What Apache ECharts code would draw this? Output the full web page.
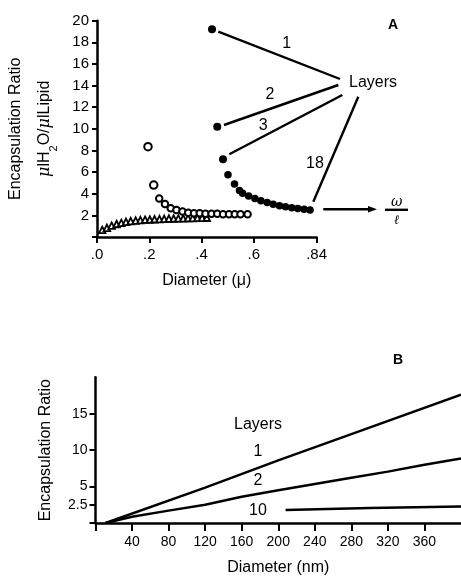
<!DOCTYPE html>
<html>
<head>
<meta charset="utf-8">
<script src="https://cdn.jsdelivr.net/npm/echarts@6/dist/echarts.min.js"></script>
<style>
  html, body { margin: 0; padding: 0; background: #fff; }
  #main { width: 461px; height: 577px; }
</style>
</head>
<body>
<div id="main"></div>
<script>
// panel A: multilamellar (filled), small vesicles (open circles, triangles)
var layerX = [0.44, 0.46, 0.482, 0.501, 0.526, 0.545, 0.557, 0.58, 0.604, 0.627, 0.651, 0.674, 0.698, 0.721, 0.745, 0.768, 0.792, 0.815];
var layerY = [19.2, 10.2, 7.2, 5.75, 4.9, 4.3, 4.04, 3.8, 3.55, 3.35, 3.18, 3.02, 2.9, 2.8, 2.71, 2.63, 2.56, 2.5];
var openX = [0.195, 0.217, 0.238, 0.26, 0.282, 0.304, 0.327, 0.349, 0.371, 0.393, 0.415, 0.438, 0.46, 0.482, 0.505, 0.527, 0.549, 0.576];
var openY = [8.35, 4.8, 3.55, 3.05, 2.65, 2.5, 2.35, 2.25, 2.2, 2.2, 2.15, 2.15, 2.15, 2.1, 2.1, 2.1, 2.1, 2.1];
var triX = [0.02, 0.038, 0.056, 0.075, 0.093, 0.111, 0.129, 0.148, 0.166, 0.184, 0.202, 0.22, 0.239, 0.257, 0.275, 0.293, 0.311, 0.33, 0.348, 0.366, 0.384, 0.402, 0.42];
var triY = [0.65, 0.85, 1.05, 1.2, 1.3, 1.4, 1.47, 1.52, 1.56, 1.6, 1.62, 1.64, 1.66, 1.68, 1.7, 1.71, 1.72, 1.73, 1.74, 1.75, 1.76, 1.77, 1.78];
var ticksAX = [0, 0.2, 0.4, 0.6, 0.84];
var labelsAX = ['.0', '.2', '.4', '.6', '.84'];

// panel B: ratio vs diameter (nm) for 1, 2, 10 layers
var diamB1 = [11, 120, 200, 280, 400];
var ratioB1 = [0, 4.85, 8.6, 12.2, 17.6];
var diamB2 = [11, 40, 80, 120, 160, 200, 240, 280, 320, 360, 400];
var ratioB2 = [0, 0.85, 1.7, 2.5, 3.6, 4.5, 5.35, 6.2, 7.05, 8.0, 8.85];
var diamB10 = [208, 300, 400];
var ratioB10 = [1.8, 2.05, 2.25];
var ticksBX = [0, 40, 80, 120, 160, 200, 240, 280, 320, 360];
var ticksBY = [0, 2.5, 5, 10, 15];

function pairs(xs, ys) {
  return xs.map(function (x, i) { return [x, ys[i]]; });
}

var ink = '#000';
var font = 'Liberation Sans, Arial, Helvetica, sans-serif';

var myChart = echarts.init(document.getElementById('main'));

function axisCommon() {
  return {
    axisLine: { show: true, onZero: false, lineStyle: { color: ink, width: 2.5 } },
    axisTick: { show: true, inside: false, length: 6, lineStyle: { color: ink, width: 2 } },
    splitLine: { show: false },
    axisLabel: { color: ink, fontFamily: font },
    nameTextStyle: { color: ink, fontFamily: font, fontSize: 16 }
  };
}

function txt(x, y, s, opt) {
  opt = opt || {};
  return {
    type: 'text', x: x, y: y,
    style: {
      text: s, fill: ink, align: 'center', verticalAlign: 'middle',
      font: (opt.weight || 'normal') + ' ' + (opt.size || 16) + 'px ' + font
    }
  };
}

function seg(x1, y1, x2, y2) {
  return { type: 'line', shape: { x1: x1, y1: y1, x2: x2, y2: y2 }, style: { stroke: ink, lineWidth: 2.4 } };
}

var option = {
  backgroundColor: '#fff',
  animation: false,
  textStyle: { fontFamily: font },
  grid: [
    { left: 94, top: 20.7, width: 222.6, height: 216.3 },
    { left: 95.5, top: 377.3, right: 0, bottom: 53 }
  ],
  xAxis: [
    echarts.util.merge(axisCommon(), {
      gridIndex: 0, type: 'value', min: 0, max: 0.84,
      name: 'Diameter (μ)', nameLocation: 'middle', nameGap: 36,
      axisTick: { customValues: ticksAX },
      axisLabel: { customValues: ticksAX, fontSize: 15, margin: 10,
        formatter: function (v) { return labelsAX[ticksAX.indexOf(v)] || ''; } }
    }, true),
    echarts.util.merge(axisCommon(), {
      gridIndex: 1, type: 'value', min: 0, max: 400,
      name: 'Diameter (nm)', nameLocation: 'middle', nameGap: 37,
      axisTick: { customValues: ticksBX, length: 8 },
      axisLabel: { customValues: ticksBX.slice(1), fontSize: 14, margin: 12 }
    }, true)
  ],
  yAxis: [
    echarts.util.merge(axisCommon(), {
      gridIndex: 0, type: 'value', min: 0, max: 20, interval: 2,
      name: 'Encapsulation Ratio\n{mu|μ}lH{sub|2}O/{mu|μ}lLipid',
      nameLocation: 'middle', nameGap: 38, nameRotate: 90,
      nameTextStyle: { lineHeight: 29, rich: {
        mu: { fontStyle: 'italic', fontSize: 16, fontFamily: 'DejaVu Serif, serif', color: ink },
        sub: { fontSize: 11, verticalAlign: 'bottom', padding: [6, 0, 0, 0], color: ink, fontFamily: font }
      } },
      axisTick: { length: 5 },
      axisLabel: { fontSize: 15, margin: 8,
        formatter: function (v) { return v === 0 ? '' : String(v); } }
    }, true),
    echarts.util.merge(axisCommon(), {
      gridIndex: 1, type: 'value', min: 0, max: 20,
      name: 'Encapsulation Ratio', nameLocation: 'middle', nameGap: 42, nameRotate: 90,
      axisTick: { customValues: ticksBY, length: 6 },
      axisLabel: { customValues: ticksBY.slice(1), fontSize: 14, margin: 8 }
    }, true)
  ],
  series: [
    {
      name: 'triangles', type: 'scatter', xAxisIndex: 0, yAxisIndex: 0,
      symbol: 'triangle', symbolSize: 6.5,
      itemStyle: { color: '#fff', borderColor: ink, borderWidth: 1.8, opacity: 1 },
      data: pairs(triX, triY)
    },
    {
      name: 'open', type: 'scatter', xAxisIndex: 0, yAxisIndex: 0,
      symbol: 'circle',
      symbolSize: function (v, p) { return p.dataIndex < 2 ? 7.5 : 6.5; },
      itemStyle: { color: '#fff', borderColor: ink, borderWidth: 2, opacity: 1 },
      data: pairs(openX, openY)
    },
    {
      name: 'layers', type: 'scatter', xAxisIndex: 0, yAxisIndex: 0,
      symbol: 'circle',
      symbolSize: function (v, p) { return p.dataIndex < 3 ? 8 : 7.5; },
      itemStyle: { color: ink, opacity: 1 },
      data: pairs(layerX, layerY)
    },
    {
      name: '1', type: 'line', xAxisIndex: 1, yAxisIndex: 1, showSymbol: false,
      lineStyle: { color: ink, width: 2.5 }, data: pairs(diamB1, ratioB1)
    },
    {
      name: '2', type: 'line', xAxisIndex: 1, yAxisIndex: 1, showSymbol: false,
      lineStyle: { color: ink, width: 2.5 }, data: pairs(diamB2, ratioB2)
    },
    {
      name: '10', type: 'line', xAxisIndex: 1, yAxisIndex: 1, showSymbol: false,
      lineStyle: { color: ink, width: 2.5 }, data: pairs(diamB10, ratioB10)
    }
  ],
  graphic: [
    // panel A annotations
    seg(218.3, 31.7, 340, 79),
    seg(224, 125, 338.3, 85),
    seg(229.3, 154.3, 342.3, 95),
    seg(313.3, 201.7, 358.3, 96.7),
    txt(286.7, 44, '1'),
    txt(270, 94.3, '2'),
    txt(263.3, 126, '3'),
    txt(315, 163.3, '18'),
    txt(373, 82.7, 'Layers'),
    txt(393, 25, 'A', { weight: 'bold', size: 14 }),
    seg(323.3, 209.3, 370, 209.3),
    { type: 'polygon', shape: { points: [[377, 209.3], [368, 206], [368, 212.6]] }, style: { fill: ink } },
    { type: 'text', x: 396.7, y: 202, style: { text: 'ω', fill: ink, align: 'center', verticalAlign: 'middle',
      font: 'italic 14px DejaVu Serif, serif' } },
    seg(385, 209.8, 408, 209.8),
    { type: 'text', x: 396.7, y: 221, style: { text: 'ℓ', fill: ink, align: 'center', verticalAlign: 'middle',
      font: 'italic 13px DejaVu Serif, serif' } },
    // panel B labels
    txt(258, 424.3, 'Layers'),
    txt(258, 452, '1'),
    txt(258, 481, '2'),
    txt(258, 510.7, '10'),
    txt(398, 360, 'B', { weight: 'bold', size: 14 })
  ]
};

myChart.setOption(option);
</script>
</body>
</html>
